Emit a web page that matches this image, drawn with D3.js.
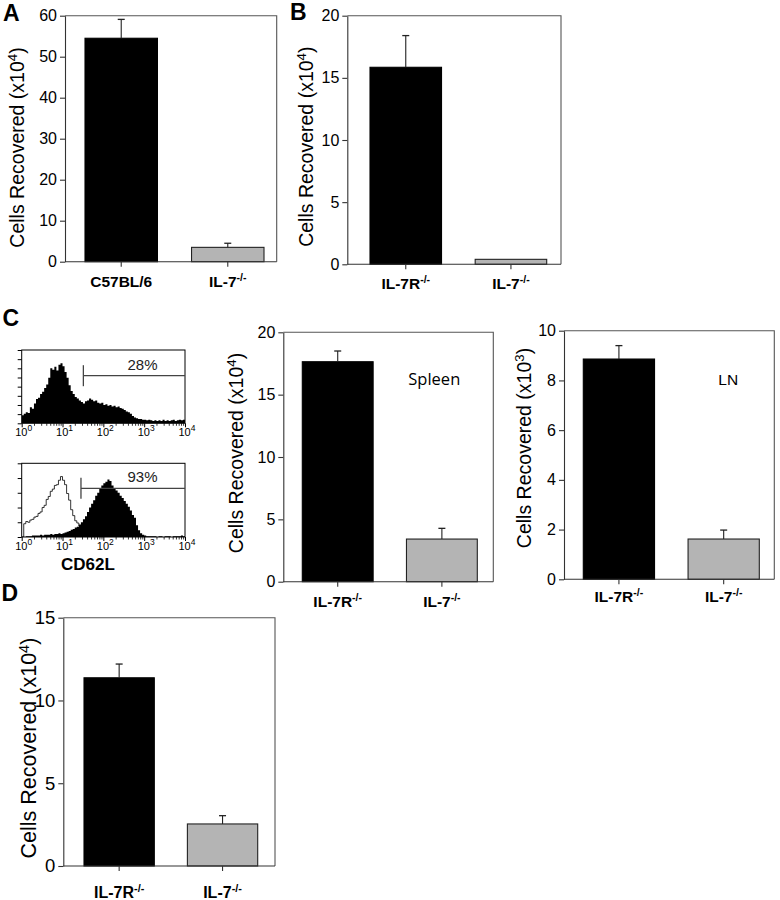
<!DOCTYPE html>
<html><head><meta charset="utf-8">
<script src="https://cdn.jsdelivr.net/npm/d3@7/dist/d3.min.js"></script>
<style>body{margin:0;background:#fff} svg{display:block}</style>
</head><body>
<svg id="c" width="780" height="900"></svg>
<script>
// ---------------- DATA ----------------
const yLabel4 = "Cells Recovered (x10{4})";
const yLabel3 = "Cells Recovered (x10{3})";

const catA = ["C57BL/6", "IL-7{-/-}"];
const valA = [54.5, 3.5];
const errA = [4.6, 1.0];
const ticksA = [0, 10, 20, 30, 40, 50, 60];

const catB = ["IL-7R{-/-}", "IL-7{-/-}"];
const valB = [15.85, 0.4];
const errB = [2.55, 0];
const ticksB = [0, 5, 10, 15, 20];

const catSpleen = ["IL-7R{-/-}", "IL-7{-/-}"];
const valSpleen = [17.64, 3.42];
const errSpleen = [0.86, 0.86];
const ticksSpleen = [0, 5, 10, 15, 20];

const catLN = ["IL-7R{-/-}", "IL-7{-/-}"];
const valLN = [8.86, 1.62];
const errLN = [0.54, 0.36];
const ticksLN = [0, 2, 4, 6, 8, 10];

const catD = ["IL-7R{-/-}", "IL-7{-/-}"];
const valD = [11.37, 2.54];
const errD = [0.83, 0.50];
const ticksD = [0, 5, 10, 15];

// Flow histograms (CD62L), bins of 0.05 decade from 10^0 to 10^4, % of full scale
const histBinDecade = 0.05;
const histDecadeLabels = ["10{0}", "10{1}", "10{2}", "10{3}", "10{4}"];
const histDecades = [1, 10, 100, 1000, 10000];
const hist1 = [11,13,15,14,22,20,27,33,35,40,
               43,48,53,62,75,73,77,72,80,82,
               78,70,62,52,44,40,36,34,31,29,
               27,30,31,34,32,30,31,28,27,28,
               25,26,24,25,23,24,22,23,21,20,
               18,16,15,13,10,8,7,6,6,5,
               5,4,5,4,3,4,3,4,3,5,
               3,4,3,4,5,3,4,5,4,5];
const hist2Filled = [0,0,1,1,1,2,2,2,2,3,
                     2,3,3,3,4,3,4,4,5,4,
                     5,6,7,8,10,11,13,14,17,20,
                     24,28,34,40,45,50,56,60,65,70,
                     73,75,78,76,70,66,63,60,56,53,
                     49,45,41,36,30,26,16,9,5,3,
                     2,1,1,1,1,1,0,1,1,0,
                     1,1,1,0,1,1,1,1,2,1];
const hist2Open = [0,18,21,20,23,24,27,28,32,34,
                   40,43,51,55,62,65,70,71,77,82,
                   77,71,59,50,37,29,22,19,15,13,
                   10,8,5,4,2,0];
const hist1YTicks = [0, 12.5, 25, 37.5, 50, 62.5, 75, 87.5, 100];
const hist2YTicks = [0, 20, 40, 60, 80, 100];
const gateStarts = [32.4, 28.3];
const gateLabels = ["28%", "93%"];

// ---------------- HELPERS ----------------
const svg = d3.select("#c");
const FONT = "'Liberation Sans', Arial, Helvetica, sans-serif";

// text with {superscript}
function richText(sel, str, supSize, raise) {
  const re = /([^{}]+)|\{([^}]*)\}/g;
  let m, lastSup = false;
  while ((m = re.exec(str)) !== null) {
    if (m[1] !== undefined) {
      const t = sel.append("tspan").text(m[1]);
      if (lastSup) t.attr("dy", raise);
      lastSup = false;
    } else {
      sel.append("tspan").text(m[2]).attr("font-size", supSize).attr("dy", -raise);
      lastSup = true;
    }
  }
  return sel;
}

function letter(ch, x, y) {
  svg.append("text").attr("x", x).attr("y", y).attr("font-family", FONT)
    .attr("font-weight", "bold").attr("font-size", 23).text(ch);
}

function barPanel(cfg, cats, vals, errs, ticks, ylab) {
  const g = svg.append("g");
  const y = d3.scaleLinear().domain([0, ticks[ticks.length - 1]]).range([cfg.bottom, cfg.top]);
  const x = d3.scaleBand().domain(cats).range([cfg.barL, cfg.barR]).paddingInner(0.32).paddingOuter(0);
  const data = cats.map((c, i) => ({c, v: vals[i], e: errs[i], i}));

  // frame top & right
  g.append("path")
    .attr("d", `M${cfg.left},${cfg.top}H${cfg.right}V${cfg.bottom}`)
    .attr("fill", "none").attr("stroke", "#555").attr("stroke-width", 1.1);

  // bars
  g.selectAll("rect.bar").data(data).join("rect")
    .attr("x", d => x(d.c)).attr("width", x.bandwidth())
    .attr("y", d => y(d.v)).attr("height", d => y(0) - y(d.v))
    .attr("fill", d => d.i === 0 ? "#000" : "#b4b4b4")
    .attr("stroke", d => d.i === 0 ? "#000" : "#222").attr("stroke-width", 1.1);

  // error bars
  const eb = data.filter(d => d.e > 0);
  g.selectAll("line.eb").data(eb).join("line")
    .attr("x1", d => x(d.c) + x.bandwidth() / 2).attr("x2", d => x(d.c) + x.bandwidth() / 2)
    .attr("y1", d => y(d.v)).attr("y2", d => y(d.v + d.e))
    .attr("stroke", "#222").attr("stroke-width", 1.1);
  g.selectAll("line.cap").data(eb).join("line")
    .attr("x1", d => x(d.c) + x.bandwidth() / 2 - 3.5).attr("x2", d => x(d.c) + x.bandwidth() / 2 + 3.5)
    .attr("y1", d => y(d.v + d.e)).attr("y2", d => y(d.v + d.e))
    .attr("stroke", "#222").attr("stroke-width", 1.3);

  // y axis
  const ya = g.append("g").attr("transform", `translate(${cfg.left},0)`)
    .call(d3.axisLeft(y).tickValues(ticks).tickSize(5).tickSizeOuter(0).tickPadding(3).tickFormat(d3.format("d")));
  ya.attr("font-size", null).attr("font-family", null);
  ya.select(".domain").attr("stroke", "#333").attr("stroke-width", 1.1);
  ya.selectAll(".tick line").attr("stroke", "#333").attr("stroke-width", 1.1);
  ya.selectAll(".tick text").attr("font-family", FONT).attr("font-size", cfg.tickFont).attr("fill", "#000");

  // bottom line
  g.append("line").attr("x1", cfg.left).attr("x2", cfg.right).attr("y1", cfg.bottom).attr("y2", cfg.bottom)
    .attr("stroke", "#333").attr("stroke-width", 1.1);

  // x axis ticks
  const xa = g.append("g").attr("transform", `translate(0,${cfg.bottom})`)
    .call(d3.axisBottom(x).tickSize(5).tickFormat(""));
  xa.select(".domain").remove();
  xa.selectAll(".tick line").attr("stroke", "#333").attr("stroke-width", 1.1);

  // category labels
  data.forEach(d => {
    const t = g.append("text").attr("x", x(d.c) + x.bandwidth() / 2).attr("y", cfg.catY)
      .attr("text-anchor", "middle").attr("font-family", FONT).attr("font-weight", "bold")
      .attr("font-size", cfg.catFont);
    richText(t, d.c, cfg.catFont * 0.68, 6);
  });

  // y label
  const yl = g.append("text")
    .attr("transform", `translate(${cfg.ylabX},${cfg.ylabY}) rotate(-90)`)
    .attr("text-anchor", "middle").attr("font-family", FONT).attr("font-size", cfg.ylabFont);
  richText(yl, ylab, cfg.ylabFont * 0.68, 7);

  if (cfg.note) {
    svg.append("text").attr("x", cfg.note.x).attr("y", cfg.note.y)
      .attr("font-family", cfg.note.font).attr("font-size", cfg.note.size).text(cfg.note.text);
  }
}

function histPanel(cfg, filled, open, yTicks, gateStart, gateLabel) {
  const g = svg.append("g");
  const x = d3.scaleLog().domain([1, 10000]).range([cfg.left, cfg.right]);
  const y = d3.scaleLinear().domain([0, 100]).range([cfg.bottom, cfg.top]);
  const toPts = arr => {
    const pts = arr.map((v, i) => [Math.pow(10, i * histBinDecade), v]);
    pts.push([Math.pow(10, arr.length * histBinDecade), arr[arr.length - 1]]);
    return pts;
  };
  const clipId = "clip" + cfg.id;
  g.append("clipPath").attr("id", clipId).append("rect")
    .attr("x", cfg.left).attr("y", cfg.top).attr("width", cfg.right - cfg.left).attr("height", cfg.bottom - cfg.top);
  const inner = g.append("g").attr("clip-path", `url(#${clipId})`);
  if (open) {
    const line = d3.line().x(d => x(d[0])).y(d => y(d[1])).curve(d3.curveStepAfter);
    inner.append("path").attr("d", line(toPts(open))).attr("fill", "none")
      .attr("stroke", "#000").attr("stroke-width", 0.8);
  }
  const area = d3.area().x(d => x(d[0])).y0(y(0)).y1(d => y(d[1])).curve(d3.curveStepAfter);
  inner.append("path").attr("d", area(toPts(filled))).attr("fill", "#000");

  // frame
  g.append("rect").attr("x", cfg.left).attr("y", cfg.top)
    .attr("width", cfg.right - cfg.left).attr("height", cfg.bottom - cfg.top)
    .attr("fill", "none").attr("stroke", "#000").attr("stroke-width", 1);

  // y ticks
  const ya = g.append("g").attr("transform", `translate(${cfg.left},0)`)
    .call(d3.axisLeft(y).tickValues(yTicks).tickSize(4).tickFormat(""));
  ya.select(".domain").remove();
  ya.selectAll(".tick line").attr("stroke", "#000");

  // x ticks: minor & major
  const minor = [];
  for (let d = 0; d < 4; d++) for (let k = 2; k <= 9; k++) minor.push(k * Math.pow(10, d));
  const xm = g.append("g").attr("transform", `translate(0,${cfg.bottom})`)
    .call(d3.axisBottom(x).tickValues(minor).tickSize(2.5).tickFormat(""));
  xm.select(".domain").remove();
  xm.selectAll(".tick line").attr("stroke", "#000").attr("stroke-width", 0.8);
  const xM = g.append("g").attr("transform", `translate(0,${cfg.bottom})`)
    .call(d3.axisBottom(x).tickValues(histDecades).tickSize(4).tickFormat(""));
  xM.select(".domain").remove();
  xM.selectAll(".tick line").attr("stroke", "#000");
  histDecades.forEach((dv, i) => {
    const t = g.append("text").attr("x", x(dv) + 2).attr("y", cfg.bottom + 12.5)
      .attr("text-anchor", "middle").attr("font-family", FONT).attr("font-size", 11);
    richText(t, histDecadeLabels[i], 8.5, 4.5);
  });

  // gate
  const gx = x(gateStart);
  g.append("line").attr("x1", gx).attr("x2", gx).attr("y1", cfg.gateY - 10.5).attr("y2", cfg.gateY + 10.5)
    .attr("stroke", "#444").attr("stroke-width", 1.3);
  g.append("line").attr("x1", gx).attr("x2", cfg.right).attr("y1", cfg.gateY).attr("y2", cfg.gateY)
    .attr("stroke", "#444").attr("stroke-width", 1.3);
  g.append("text").attr("x", 142.5).attr("y", cfg.gateY - 6.2).attr("text-anchor", "middle")
    .attr("font-family", FONT).attr("font-size", 15).attr("fill", "#222").text(gateLabel);
}

// ---------------- DRAW ----------------
letter("A", 3, 21);
letter("B", 290, 20);
letter("C", 2.5, 326);
letter("D", 1.5, 600.5);

barPanel({left: 65, right: 276.7, top: 15.7, bottom: 261.7, barL: 85, barR: 264,
  ylabX: 24, ylabY: 147.5, catY: 286.5, tickFont: 16, ylabFont: 19.5, catFont: 15.5},
  catA, valA, errA, ticksA, yLabel4);

barPanel({left: 347.3, right: 561, top: 15.7, bottom: 264.3, barL: 370, barR: 546.7,
  ylabX: 313, ylabY: 146.7, catY: 289, tickFont: 16, ylabFont: 19.5, catFont: 15.5},
  catB, valB, errB, ticksB, yLabel4);

barPanel({left: 283.3, right: 493.3, top: 332.3, bottom: 581.7, barL: 302.3, barR: 477.3,
  ylabX: 243, ylabY: 453, catY: 606.5, tickFont: 16, ylabFont: 19.5, catFont: 15.5,
  note: {x: 408.3, y: 384.5, text: "Spleen", font: "'Open Sans', sans-serif", size: 16.5}},
  catSpleen, valSpleen, errSpleen, ticksSpleen, yLabel4);

barPanel({left: 564, right: 774.3, top: 330.7, bottom: 579.3, barL: 583.3, barR: 759.3,
  ylabX: 531, ylabY: 448, catY: 601.5, tickFont: 16, ylabFont: 19.5, catFont: 15.5,
  note: {x: 718.3, y: 385, text: "LN", font: FONT, size: 15.5}},
  catLN, valLN, errLN, ticksLN, yLabel3);

barPanel({left: 63.3, right: 275, top: 617.7, bottom: 866, barL: 84, barR: 257.7,
  ylabX: 35.5, ylabY: 748, catY: 898, tickFont: 18.5, ylabFont: 21.5, catFont: 16},
  catD, valD, errD, ticksD, yLabel4);

histPanel({id: 1, left: 21.7, right: 185, top: 350, bottom: 423.3, gateY: 375.7},
  hist1, null, hist1YTicks, gateStarts[0], gateLabels[0]);
histPanel({id: 2, left: 21.7, right: 185, top: 463.3, bottom: 537, gateY: 488.3},
  hist2Filled, hist2Open, hist2YTicks, gateStarts[1], gateLabels[1]);

svg.append("text").attr("x", 88).attr("y", 570).attr("text-anchor", "middle")
  .attr("font-family", FONT).attr("font-weight", "bold").attr("font-size", 17).text("CD62L");
</script>
</body></html>
